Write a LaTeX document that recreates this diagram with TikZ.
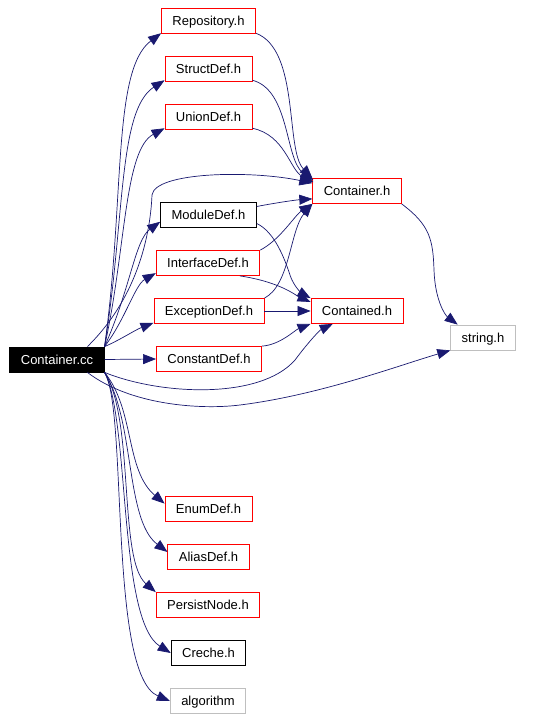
\documentclass[tikz,border=0pt]{standalone}
\usepackage{fontspec}
\setmainfont{Liberation Sans}
\usetikzlibrary{positioning,arrows.meta,calc}
\definecolor{midnightblue}{RGB}{25,25,112}
\definecolor{lightgrey}{RGB}{191,191,191}

\begin{document}
\begin{tikzpicture}[x=1pt,y=-1pt,
myfile/.style={
  draw,
  rectangle,
  line width=0.8pt,
  inner xsep=11pt,
  inner ysep=0pt,
  minimum height=25pt,
  text height=9.3pt,
  text depth=0pt,
  font=\fontsize{13}{15}\selectfont},
redfile/.style={myfile,draw=red},
greyfile/.style={myfile,draw=lightgrey},
mainfile/.style={myfile,fill=black,text=white},
dep/.style={
  draw=midnightblue,
  line width=0.7pt,
  -{Triangle[length=13pt,width=10pt,fill=midnightblue]}}
]
\fill[white] (0,0) rectangle (532,719);
\useasboundingbox (0,0) rectangle (532,719);

\node[mainfile] (cc) at (57,359.5) {Container.cc};
\node[redfile] (repo) at (208.5,20.5) {Repository.h};
\node[redfile] (struct) at (208.5,68.5) {StructDef.h};
\node[redfile] (union) at (208.5,116.5) {UnionDef.h};
\node[myfile] (module) at (208.5,215) {ModuleDef.h};
\node[redfile] (iface) at (208,263) {InterfaceDef.h};
\node[redfile] (exc) at (209,311) {ExceptionDef.h};
\node[redfile] (const) at (209,359) {ConstantDef.h};
\node[redfile] (enum) at (208.5,509) {EnumDef.h};
\node[redfile] (alias) at (208.5,557) {AliasDef.h};
\node[redfile] (persist) at (208,605) {PersistNode.h};
\node[myfile] (creche) at (208.5,653) {Creche.h};
\node[greyfile] (algo) at (208,701) {algorithm};
\node[redfile] (contr) at (357,191) {Container.h};
\node[redfile] (contd) at (357,311) {Contained.h};
\node[greyfile] (str) at (483,337.5) {string.h};

% Container.cc upwards
\draw[dep] (cc.north east) .. controls (125,200) and (112,70) .. (repo.195);
\draw[dep] (cc.north east) .. controls (125,220) and (118,110) .. (struct.195);
\draw[dep] (cc.north east) .. controls (126,250) and (124,150) .. (union.195);
\draw[dep] (cc.23) .. controls (135,300) and (150,240) .. (152,195)
  .. controls (155,172) and (250,170) .. (contr.170);
\draw[dep] (cc.north east) .. controls (130,290) and (135,240) .. (module.188);
\draw[dep] (cc.north east) .. controls (125,320) and (135,285) .. (iface.191);
\draw[dep] (cc.north east) .. controls (120,340) and (135,330) .. (exc.192);
\draw[dep] (cc.east) -- (const.west);
% Container.cc downwards
\draw[dep] (cc.south east) .. controls (160,395) and (260,400) .. (295,360)
  .. controls (310,340) and (320,330) .. (contd.208);
\draw[dep] (cc.-23) .. controls (130,405) and (200,410) .. (240,405)
  .. controls (320,395) and (400,365) .. (str.south west);
\draw[dep] (cc.south east) .. controls (135,410) and (125,470) .. (enum.173);
\draw[dep] (cc.south east) .. controls (135,420) and (125,520) .. (alias.173);
\draw[dep] (cc.south east) .. controls (135,420) and (118,560) .. (persist.north west);
\draw[dep] (cc.south east) .. controls (130,420) and (118,620) .. (creche.west);
\draw[dep] (cc.south east) .. controls (128,410) and (108,675) .. (algo.west);
% headers
\draw[dep] (repo.-15) .. controls (300,50) and (285,150) .. (contr.north west);
\draw[dep] (struct.-15) .. controls (290,90) and (285,160) .. ($(contr.north west)+(1,2)$);
\draw[dep] (union.-15) .. controls (285,135) and (290,170) .. ($(contr.north west)+(1,4)$);
\draw[dep] (module.10) .. controls (275,203) and (295,200) .. (contr.190);
\draw[dep] (module.-10) .. controls (275,232) and (285,260) .. (290,275)
  .. controls (295,290) and (305,295) .. (contd.north west);
\draw[dep] (iface.north east) .. controls (280,240) and (295,215) .. (contr.south west);
\draw[dep] (iface.-22) .. controls (280,282) and (295,295) .. (contd.169);
\draw[dep] (exc.north east) .. controls (290,285) and (290,230) .. (contr.south west);
\draw[dep] (exc.east) -- (contd.west);
\draw[dep] (const.north east) .. controls (280,345) and (295,330) .. (contd.south west);
\draw[dep] (contr.south east) .. controls (430,225) and (433,240) .. (434,270)
  .. controls (435,300) and (445,315) .. (str.153);
\end{tikzpicture}
\end{document}
